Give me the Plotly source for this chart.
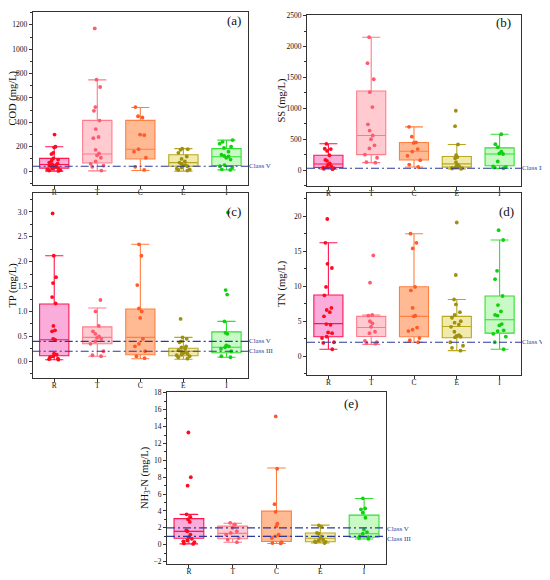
"""Water quality box plots (COD, SS, TP, TN, NH3-N) for five land-use groups."""

import plotly.graph_objects as go

SERIF = "Liberation Serif"
LINE_BLUE = "#2B3A9E"

# the page body keeps its default 8px margin, so the figure is laid out in page pixels
PAGE_OFFSET = 8
FIG_W, FIG_H = 550 - PAGE_OFFSET, 580 - PAGE_OFFSET

categories = ["R", "T", "C", "E", "I"]

# per-group styles: (point colour, box line colour, box fill)
group_styles = {
    "R": ("#FF0A1E", "#FF1450", "rgba(245,70,175,0.45)"),
    "T": ("#FF5A6E", "#FF7A8A", "rgba(255,140,150,0.45)"),
    "C": ("#FF5A2A", "#FF8040", "rgba(255,130,60,0.55)"),
    "E": ("#A09010", "#B8A820", "rgba(225,215,90,0.5)"),
    "I": ("#10D010", "#30E030", "rgba(100,240,90,0.35)"),
}

# ---------------------------------------------------------------------------
# (a) COD
# ---------------------------------------------------------------------------
cod_lower = [0, 2, 5, 0, 10]
cod_q1 = [25, 67, 100, 40, 46]
cod_median = [55, 140, 180, 70, 118]
cod_q3 = [105, 416, 416, 135, 185]
cod_upper = [200, 748, 522, 185, 254]
cod_points = {
    "R": [300, 200, 195, 150, 140, 105, 95, 85, 70, 62, 55, 50, 45, 38, 35, 30, 25, 20, 15, 8, 5, 2],
    "T": [1170, 750, 690, 525, 495, 415, 345, 280, 270, 175, 145, 130, 110, 80, 60, 45, 35, 5],
    "C": [525, 450, 440, 300, 295, 180, 160, 110, 35, 10],
    "E": [185, 180, 175, 150, 120, 100, 80, 70, 60, 50, 45, 40, 30, 20, 15, 10, 5],
    "I": [255, 240, 225, 200, 190, 160, 135, 125, 120, 110, 95, 50, 40, 30, 15, 10],
}
cod_classes = [40]
cod_class_names = ["Class V"]

# ---------------------------------------------------------------------------
# (b) SS
# ---------------------------------------------------------------------------
ss_lower = [18, 120, 50, 20, 28]
ss_q1 = [43, 250, 163, 48, 70]
ss_median = [98, 560, 304, 100, 260]
ss_q3 = [240, 1280, 446, 220, 360]
ss_upper = [425, 2150, 700, 415, 580]
ss_points = {
    "R": [425, 345, 340, 310, 240, 165, 150, 110, 90, 65, 50, 40, 30, 20, 15],
    "T": [2150, 1730, 1470, 1260, 1020, 740, 640, 560, 500, 400, 350, 250, 200, 130, 120],
    "C": [700, 540, 450, 440, 340, 300, 230, 160, 90, 50],
    "E": [960, 710, 415, 240, 210, 190, 130, 90, 70, 55, 45, 35, 30, 25, 20],
    "I": [580, 420, 370, 300, 270, 260, 140, 60, 50, 40, 30],
}
ss_classes = [30]
ss_class_names = ["Class III"]

# ---------------------------------------------------------------------------
# (c) TP
# ---------------------------------------------------------------------------
tp_lower = [0.03, 0.10, 0.05, 0.04, 0.08]
tp_q1 = [0.11, 0.35, 0.13, 0.11, 0.17]
tp_median = [0.43, 0.48, 0.48, 0.20, 0.28]
tp_q3 = [1.15, 0.69, 1.05, 0.26, 0.59]
tp_upper = [2.12, 1.07, 2.35, 0.48, 0.80]
tp_points = {
    "R": [2.97, 2.12, 1.69, 1.57, 1.29, 1.16, 0.71, 0.62, 0.60, 0.45, 0.43, 0.15, 0.13, 0.10, 0.08, 0.05, 0.04, 0.03],
    "T": [1.23, 1.00, 0.71, 0.60, 0.55, 0.50, 0.47, 0.45, 0.40, 0.35, 0.20, 0.12, 0.10],
    "C": [2.35, 2.12, 1.53, 1.06, 1.00, 0.87, 0.45, 0.35, 0.30, 0.20, 0.10, 0.06],
    "E": [0.85, 0.48, 0.45, 0.40, 0.38, 0.30, 0.28, 0.25, 0.22, 0.20, 0.18, 0.16, 0.15, 0.13, 0.12, 0.10, 0.08, 0.05],
    "I": [2.99, 1.43, 1.34, 0.80, 0.57, 0.55, 0.32, 0.30, 0.28, 0.25, 0.20, 0.10, 0.08],
}
tp_classes = [0.4, 0.2]
tp_class_names = ["Class V", "Class III"]

# ---------------------------------------------------------------------------
# (d) TN
# ---------------------------------------------------------------------------
tn_lower = [1.0, 1.7, 2.0, 0.8, 1.0]
tn_q1 = [2.78, 2.82, 2.78, 2.64, 3.30]
tn_median = [4.66, 4.10, 5.70, 4.24, 5.22]
tn_q3 = [8.75, 5.70, 9.93, 5.70, 8.60]
tn_upper = [16.2, 5.9, 17.5, 8.1, 16.6]
tn_points = {
    "R": [19.6, 16.2, 13.2, 12.6, 9.9, 8.7, 6.9, 6.6, 6.3, 5.7, 4.6, 4.5, 3.4, 3.3, 2.8, 2.6, 2.0, 1.9, 1.0],
    "T": [14.4, 10.5, 5.9, 5.8, 5.0, 4.7, 4.2, 3.5, 3.3, 2.2, 2.0, 1.9, 1.8],
    "C": [17.5, 16.2, 15.4, 9.9, 9.4, 6.9, 5.8, 5.7, 4.1, 3.8, 3.6, 2.6, 2.3, 2.0],
    "E": [19.1, 11.6, 8.1, 7.4, 6.3, 5.9, 5.5, 5.0, 4.8, 4.5, 4.2, 3.5, 3.0, 2.9, 2.8, 2.7, 2.0, 1.5, 1.2, 0.8],
    "I": [18.0, 16.6, 12.2, 11.0, 8.6, 7.3, 6.4, 5.9, 5.8, 4.6, 4.4, 3.7, 3.6, 3.2, 2.8, 2.0, 1.0],
}
tn_classes = [2.0]
tn_class_names = ["Class V"]

# ---------------------------------------------------------------------------
# (e) NH3-N
# ---------------------------------------------------------------------------
nh_lower = [0.10, 0.30, 0.15, 0.20, 0.68]
nh_q1 = [0.77, 0.70, 0.39, 0.35, 0.89]
nh_median = [1.58, 1.35, 1.00, 0.77, 1.31]
nh_q3 = [3.09, 2.20, 3.98, 1.39, 3.51]
nh_upper = [3.60, 2.55, 9.10, 2.32, 5.48]
nh_points = {
    "R": [13.3, 8.0, 7.0, 3.6, 3.3, 3.0, 2.7, 1.7, 1.6, 1.2, 0.9, 0.7, 0.5, 0.4, 0.3, 0.15, 0.1],
    "T": [2.6, 2.4, 2.0, 1.6, 1.4, 1.2, 0.8, 0.6, 0.3],
    "C": [15.2, 9.0, 4.8, 3.9, 2.5, 2.2, 1.2, 1.0, 0.8, 0.3, 0.2, 0.15],
    "E": [2.3, 2.1, 1.4, 1.3, 1.0, 0.8, 0.6, 0.5, 0.4, 0.35, 0.3, 0.2],
    "I": [5.5, 4.3, 4.2, 3.8, 3.2, 1.8, 1.5, 1.3, 1.0, 0.9, 0.8, 0.7],
}
nh_classes = [2.0, 1.0]
nh_class_names = ["Class V", "Class III"]


def page_x(px):
    return (px - PAGE_OFFSET) / FIG_W


def page_y(py):
    return 1 - (py - PAGE_OFFSET) / FIG_H


def page_box(x0, x1, y0, y1):
    """Turn a frame given in page pixels into (x domain, y domain)."""
    return [page_x(x0), page_x(x1)], [page_y(y1), min(1.0, page_y(y0))]


# frame, y-title x and panel-label anchor are given in page pixels
panels = [
    dict(label="(a)", ytitle="COD (mg/L)",
         stats=(cod_lower, cod_q1, cod_median, cod_q3, cod_upper), points=cod_points,
         classes=cod_classes, names=cod_class_names, shifts=[0],
         frame=(32.7, 248, 7, 183), title_x=13, label_xy=(243, 17),
         yrange=[-115, 1305], dtick=200, fmt=None),
    dict(label="(b)", ytitle="SS (mg/L)",
         stats=(ss_lower, ss_q1, ss_median, ss_q3, ss_upper), points=ss_points,
         classes=ss_classes, names=ss_class_names, shifts=[0],
         frame=(307, 521, 11, 184), title_x=282, label_xy=(513, 19),
         yrange=[-260, 2510], dtick=500, fmt=None),
    dict(label="(c)", ytitle="TP (mg/L)",
         stats=(tp_lower, tp_q1, tp_median, tp_q3, tp_upper), points=tp_points,
         classes=tp_classes, names=tp_class_names, shifts=[0, 0],
         frame=(32.7, 248, 191, 378), title_x=13, label_xy=(243, 210),
         yrange=[-0.34, 3.38], dtick=0.5, fmt=".1f"),
    dict(label="(d)", ytitle="TN (mg/L)",
         stats=(tn_lower, tn_q1, tn_median, tn_q3, tn_upper), points=tn_points,
         classes=tn_classes, names=tn_class_names, shifts=[0],
         frame=(307, 521, 191, 375), title_x=282, label_xy=(516, 210),
         yrange=[-2.7, 23.3], dtick=5, fmt=None),
    dict(label="(e)", ytitle="NH<sub>3</sub>-N (mg/L)",
         stats=(nh_lower, nh_q1, nh_median, nh_q3, nh_upper), points=nh_points,
         classes=nh_classes, names=nh_class_names, shifts=[-1, -3],
         frame=(167, 386, 392, 566), title_x=145, label_xy=(360, 404),
         yrange=[-2.3, 18.1], dtick=2, fmt=None),
]


def add_panel(fig, idx, p):
    lower, q1, median, q3, upper = p["stats"]
    points = p["points"]
    sfx = "" if idx == 1 else str(idx)
    xref, yref = "x" + sfx, "y" + sfx
    xdom, ydom = page_box(*p["frame"])

    for i, cat in enumerate(categories):
        pt_color, line_color, fill = group_styles[cat]
        fig.add_trace(go.Box(
            x=[cat], q1=[q1[i]], median=[median[i]], q3=[q3[i]],
            lowerfence=[lower[i]], upperfence=[upper[i]],
            width=0.68, whiskerwidth=0.62, fillcolor=fill,
            line=dict(color=line_color, width=1.1), boxpoints=False,
            xaxis=xref, yaxis=yref, showlegend=False,
        ))
        fig.add_trace(go.Box(
            x=[cat] * len(points[cat]), y=points[cat], boxpoints="all",
            jitter=0.55, pointpos=0, width=0.68, whiskerwidth=0,
            fillcolor="rgba(0,0,0,0)", line=dict(width=0, color="rgba(0,0,0,0)"),
            marker=dict(color=pt_color, size=3.8),
            xaxis=xref, yaxis=yref, showlegend=False,
        ))

    axis_common = dict(
        showline=True, linecolor="#333333", linewidth=1, mirror=True,
        ticks="outside", ticklen=3, tickcolor="#333333", showgrid=False, zeroline=False,
        tickfont=dict(family=SERIF, size=7.5, color="#111111"),
    )
    fig.update_layout({
        "xaxis" + sfx: dict(axis_common, domain=xdom, anchor=yref, type="category",
                            categoryorder="array", categoryarray=categories, range=[-0.5, 4.5],
                            ticklabelstandoff=-3),
        "yaxis" + sfx: dict(axis_common, domain=ydom, anchor=xref, range=p["yrange"],
                            dtick=p["dtick"], tickformat=p["fmt"],
                            minor=dict(ticks="outside", ticklen=2, tickcolor="#333333",
                                       dtick=p["dtick"] / 2)),
    })

    # y title placed at the same distance from the frame as in the reference
    fig.add_annotation(xref="paper", yref=yref + " domain", x=page_x(p["title_x"]),
                       y=0.5, text=p["ytitle"], textangle=-90, showarrow=False,
                       xanchor="center", yanchor="middle",
                       font=dict(family=SERIF, size=10.5, color="#111111"))

    for value, name, shift in zip(p["classes"], p["names"], p["shifts"]):
        fig.add_shape(type="line", xref=xref + " domain", yref=yref, x0=0, x1=1, y0=value, y1=value,
                      line=dict(color=LINE_BLUE, width=1.2, dash="8px,3px,2px,3px"))
        fig.add_annotation(xref=xref + " domain", yref=yref, x=1.0, y=value, text=name,
                           showarrow=False, xanchor="left", yanchor="middle", yshift=shift,
                           borderpad=0, font=dict(family=SERIF, size=7, color=LINE_BLUE))

    lx, ly = p["label_xy"]
    fig.add_annotation(xref="paper", yref="paper", x=page_x(lx), y=page_y(ly), text=p["label"],
                       showarrow=False, xanchor="right", yanchor="middle",
                       font=dict(family=SERIF, size=13, color="#111111"))


fig = go.Figure()
for n, panel in enumerate(panels, start=1):
    add_panel(fig, n, panel)

fig.update_layout(
    width=FIG_W, height=FIG_H, boxmode="overlay",
    margin=dict(l=0, r=0, t=0, b=0),
    paper_bgcolor="white", plot_bgcolor="white",
    font=dict(family=SERIF),
)

fig.write_html("out.html")
